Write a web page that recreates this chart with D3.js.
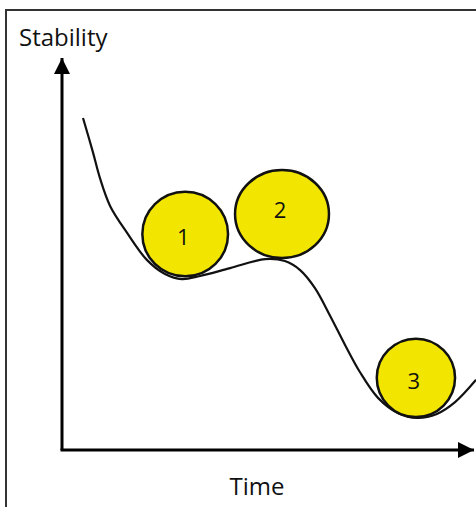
<!DOCTYPE html>
<html lang="en">
<head>
    <meta charset="UTF-8" />
    <title>Stability over time</title>
    <script src="https://d3js.org/d3.v7.min.js"></script>
    <style>
        body { margin: 0; background: #fff; }
        text { font-family: "Open Sans", Lato, sans-serif; fill: #111; }
    </style>
</head>
<body>
    <script>
        var w = 476;
        var h = 507;

        // Landscape curve (time, stability) in abstract units 0-100
        var curveTime = [5.1, 7.5, 9.2, 11.7, 15.8, 20.6, 25.0, 29.1, 33.5, 40.8, 49.3, 54.1, 57.8, 61.4, 65.0, 68.7, 72.3, 76.7, 81.6, 86.2, 91.0, 95.4, 100.5];
        var curveStability = [84.7, 76.0, 69.4, 62.2, 55.4, 48.5, 44.9, 43.6, 44.4, 46.4, 48.7, 48.2, 45.9, 41.3, 34.4, 26.8, 19.9, 13.3, 9.4, 8.2, 9.2, 12.2, 17.9];

        // Balls resting on the curve
        var ballLabels = ["1", "2", "3"];
        var ballTime = [29.9, 53.4, 85.9];
        var ballStability = [55.1, 60.2, 18.4];
        var ballRadiusX = [10.4, 11.4, 9.5];
        var ballRadiusY = [10.8, 11.2, 10.0];

        var svg = d3.select("body")
            .append("svg")
            .attr("width", w)
            .attr("height", h);

        // Scales
        var xScale = d3.scaleLinear().domain([0, 100]).range([62, 474]);
        var yScale = d3.scaleLinear().domain([0, 100]).range([450, 58]);

        // Frame (top and left edges only)
        svg.append("path")
            .attr("d", "M6," + h + " L6,10 L" + w + ",10")
            .attr("fill", "none")
            .attr("stroke", "#333")
            .attr("stroke-width", 2);

        // Arrow marker
        svg.append("defs").append("marker")
            .attr("id", "arrow")
            .attr("viewBox", "0 0 10 10")
            .attr("refX", 10)
            .attr("refY", 5)
            .attr("markerUnits", "userSpaceOnUse")
            .attr("markerWidth", 16)
            .attr("markerHeight", 16)
            .attr("orient", "auto")
            .append("path")
            .attr("d", "M0,0 L10,5 L0,10 Z")
            .attr("fill", "#000");

        // Axes
        svg.append("line")
            .attr("x1", xScale(0)).attr("y1", yScale(0))
            .attr("x2", xScale(0)).attr("y2", yScale(100))
            .attr("stroke", "#000")
            .attr("stroke-width", 3)
            .attr("marker-end", "url(#arrow)");

        svg.append("line")
            .attr("x1", xScale(0) - 1.5).attr("y1", yScale(0))
            .attr("x2", xScale(100)).attr("y2", yScale(0))
            .attr("stroke", "#000")
            .attr("stroke-width", 3)
            .attr("marker-end", "url(#arrow)");

        // Axis titles
        svg.append("text")
            .attr("x", 19)
            .attr("y", 46)
            .attr("font-size", 24)
            .text("Stability");

        svg.append("text")
            .attr("x", 257)
            .attr("y", 495)
            .attr("text-anchor", "middle")
            .attr("font-size", 24)
            .text("Time");

        // Curve
        var points = curveTime.map(function(t, i) { return [t, curveStability[i]]; });
        var line = d3.line()
            .x(function(d) { return xScale(d[0]); })
            .y(function(d) { return yScale(d[1]); })
            .curve(d3.curveCatmullRom.alpha(0.5));

        svg.append("path")
            .datum(points)
            .attr("d", line)
            .attr("fill", "none")
            .attr("stroke", "#111")
            .attr("stroke-width", 2.2);

        // Balls
        var balls = svg.selectAll("g.ball")
            .data(ballLabels)
            .enter()
            .append("g")
            .attr("class", "ball");

        balls.append("ellipse")
            .attr("cx", function(d, i) { return xScale(ballTime[i]); })
            .attr("cy", function(d, i) { return yScale(ballStability[i]); })
            .attr("rx", function(d, i) { return xScale(ballRadiusX[i]) - xScale(0); })
            .attr("ry", function(d, i) { return yScale(0) - yScale(ballRadiusY[i]); })
            .attr("fill", "#f2e600")
            .attr("stroke", "#111")
            .attr("stroke-width", 2.5);

        balls.append("text")
            .attr("x", function(d, i) { return xScale(ballTime[i]) - 2; })
            .attr("y", function(d, i) { return yScale(ballStability[i]) + (i === 1 ? -4 : 3); })
            .attr("dy", "0.35em")
            .attr("text-anchor", "middle")
            .attr("font-size", 22)
            .text(function(d) { return d; });
    </script>
</body>
</html>
